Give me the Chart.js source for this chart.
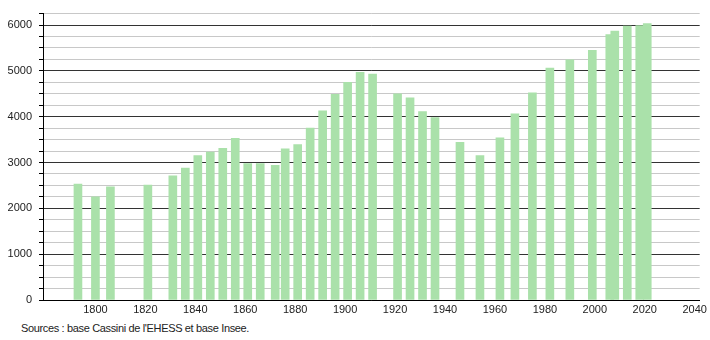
<!DOCTYPE html>
<html>
<head>
<meta charset="utf-8">
<script src="https://cdn.jsdelivr.net/npm/chart.js@4"></script>
<style>
    body { margin: 0; background: #fff; }
    #wrap { position: relative; width: 710px; height: 340px; }
    #source {
        position: absolute; left: 21px; top: 322px;
        font: 11px "Liberation Sans", Arial, sans-serif; color: #222;
        letter-spacing: -0.35px;
    }
</style>
</head>
<body>
<div id="wrap">
    <canvas id="popChart" width="710" height="318"></canvas>
    <div id="source">Sources : base Cassini de l'EHESS et base Insee.</div>
</div>
<script>
const years = [1793, 1800, 1806, 1821, 1831, 1836, 1841, 1846, 1851, 1856, 1861, 1866, 1872, 1876, 1881, 1886, 1891, 1896, 1901, 1906, 1911, 1921, 1926, 1931, 1936, 1946, 1954, 1962, 1968, 1975, 1982, 1990, 1999, 2006, 2008, 2013, 2018, 2021];
const population = [2530, 2250, 2470, 2510, 2710, 2880, 3150, 3230, 3310, 3530, 2975, 2975, 2940, 3300, 3390, 3750, 4130, 4490, 4750, 4970, 4930, 4500, 4410, 4110, 3980, 3440, 3150, 3540, 4060, 4520, 5060, 5240, 5450, 5790, 5870, 5980, 5990, 6030];
const xTickLabels = [1800, 1820, 1840, 1860, 1880, 1900, 1920, 1940, 1960, 1980, 2000, 2020, 2040];
const yTickLabels = [0, 1000, 2000, 3000, 4000, 5000, 6000];
const yMinorStep = 250;
const yMax = 6250;

const FONT = { family: '"Liberation Sans", Arial, sans-serif', size: 11 };

document.addEventListener('DOMContentLoaded', function() {
    const ctx = document.getElementById("popChart").getContext("2d");
    new Chart(ctx, {
        type: "bar",
        data: {
            datasets: [{
                data: years.map((y, i) => ({ x: y, y: population[i] })),
                backgroundColor: "rgb(170, 225, 170)",
                borderWidth: 0,
                barThickness: 8
            }]
        },
        options: {
            responsive: false,
            animation: false,
            layout: { padding: { top: 10, right: 10, left: 0, bottom: 0 } },
            plugins: { legend: { display: false }, tooltip: { enabled: false } },
            scales: {
                x: {
                    type: "linear",
                    min: 1779,
                    max: 2042,
                    offset: false,
                    afterBuildTicks: scale => { scale.ticks = xTickLabels.map(v => ({ value: v })); },
                    afterFit: scale => { scale.height = 18; },
                    grid: { display: false, drawTicks: false, offset: false },
                    border: { display: true, color: "#000", width: 1 },
                    ticks: {
                        autoSkip: false, maxRotation: 0, padding: 3, color: "#222", font: FONT,
                        callback: v => String(v)
                    }
                },
                y: {
                    min: 0,
                    max: yMax,
                    afterBuildTicks: scale => {
                        const ticks = [];
                        for (let v = 0; v <= yMax; v += yMinorStep) ticks.push({ value: v });
                        scale.ticks = ticks;
                    },
                    afterFit: scale => { scale.width = 43; },
                    grid: {
                        color: c => yTickLabels.includes(c.tick.value) ? "#333" : "#c8c8c8",
                        tickColor: "#000",
                        tickLength: 4,
                        lineWidth: 1
                    },
                    border: { display: true, color: "#000", width: 1 },
                    ticks: {
                        autoSkip: false,
                        padding: 7,
                        color: "#222",
                        font: FONT,
                        callback: v => yTickLabels.includes(v) ? String(v) : ""
                    }
                }
            }
        }
    });
});
</script>
</body>
</html>
